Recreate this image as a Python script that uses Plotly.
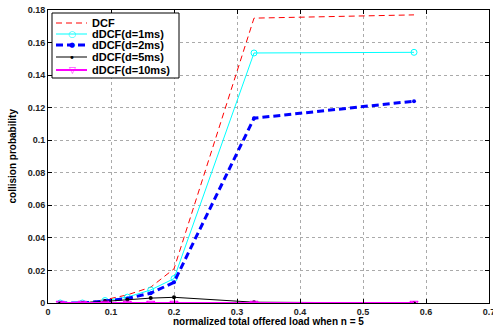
import plotly.graph_objects as go

load = [0.0194, 0.0546, 0.0905, 0.126, 0.163, 0.2, 0.327, 0.581]
dcf = [0.0, 0.0, 0.002, 0.005, 0.0097, 0.021, 0.175, 0.177]
ddcf1 = [0.0, 0.0, 0.0015, 0.0036, 0.008, 0.015, 0.1536, 0.154]
ddcf2 = [0.0, 0.0, 0.0012, 0.0028, 0.006, 0.0127, 0.1135, 0.124]
ddcf5 = [0.0, 0.0, 0.001, 0.002, 0.003, 0.0035, 0.0005, 0.0]
ddcf10 = [0.0, 0.0, 0.0, 0.0, 0.0, 0.0, 0.0, 0.0]

names = ["DCF", "dDCF(d=1ms)", "dDCF(d=2ms)", "dDCF(d=5ms)", "dDCF(d=10ms)"]
xticks = [0, 0.1, 0.2, 0.3, 0.4, 0.5, 0.6, 0.7]
xticklabels = ["0", "0.1", "0.2", "0.3", "0.4", "0.5", "0.6", "0.7"]
yticks = [0, 0.02, 0.04, 0.06, 0.08, 0.1, 0.12, 0.14, 0.16, 0.18]
yticklabels = ["0", "0.02", "0.04", "0.06", "0.08", "0.1", "0.12", "0.14", "0.16", "0.18"]

styles = [
    dict(line=dict(color="red", width=1, dash="6px,4px"), mode="lines", marker=None, glyph=None),
    dict(line=dict(color="cyan", width=1), mode="lines+markers",
         marker=dict(symbol="circle-open", size=6, color="cyan", line=dict(width=1)), glyph="○"),
    dict(line=dict(color="blue", width=3, dash="7px,4px"), mode="lines+markers",
         marker=dict(symbol="circle", size=4, color="blue"), glyph="●"),
    dict(line=dict(color="black", width=1), mode="lines+markers",
         marker=dict(symbol="circle", size=4, color="black"), glyph="•"),
    dict(line=dict(color="magenta", width=2), mode="lines+markers",
         marker=dict(symbol="triangle-down-open", size=7, color="magenta", line=dict(width=1.2)), glyph="▽"),
]
series = [dcf, ddcf1, ddcf2, ddcf5, ddcf10]

fig = go.Figure()
for nm, ys, st in zip(names, series, styles):
    kw = dict(x=load, y=ys, name=nm, mode=st["mode"], line=st["line"], showlegend=False)
    if st["marker"] is not None:
        kw["marker"] = st["marker"]
    fig.add_trace(go.Scatter(**kw))

FONT = "Liberation Sans"
axis_common = dict(showline=True, linecolor="black", linewidth=1, mirror="ticks",
                   ticks="inside", ticklen=4, tickcolor="black",
                   showgrid=True, gridcolor="#aaaaaa", griddash="dot", gridwidth=1,
                   zeroline=False, automargin=False, ticklabeloverflow="allow",
                   tickfont=dict(family=FONT, size=9, color="#222", weight="bold"))

W, H = 493, 327
L, R, T, B = 48, 489, 10, 303
def px(x):
    return (x - L) / (R - L)
def py(y):
    return (B - y) / (B - T)

shapes = [dict(type="rect", xref="paper", yref="paper",
               x0=px(52), x1=px(179), y0=py(78), y1=py(13),
               line=dict(color="black", width=1), fillcolor="white", layer="above")]
annotations = []
rows = [23, 34, 45, 57, 70]
for nm, st, ry in zip(names, styles, rows):
    ln = st["line"]
    shapes.append(dict(type="line", xref="paper", yref="paper",
                       x0=px(56), x1=px(87), y0=py(ry), y1=py(ry),
                       line=dict(color=ln["color"], width=ln["width"],
                                 dash=ln.get("dash", "solid")), layer="above"))
    if st["glyph"]:
        gsize = {"○": 9, "●": 7, "•": 10, "▽": 9}[st["glyph"]]
        annotations.append(dict(xref="paper", yref="paper", x=px(72), y=py(ry),
                                text=st["glyph"], showarrow=False, xanchor="center", yanchor="middle",
                                font=dict(family="DejaVu Sans", size=gsize, color=ln["color"])))
    annotations.append(dict(xref="paper", yref="paper", x=px(90), y=py(ry),
                            text=nm, showarrow=False, xanchor="left", yanchor="middle",
                            font=dict(family=FONT, size=11, color="black", weight="bold")))

annotations.append(dict(xref="paper", yref="paper", x=0.5, y=py(321.5),
                        text="normalized total offered load when n = 5", showarrow=False,
                        xanchor="center", yanchor="middle",
                        font=dict(family=FONT, size=10, color="black", weight="bold")))
annotations.append(dict(xref="paper", yref="paper", x=px(12), y=0.5,
                        text="collision probability", showarrow=False, textangle=-90,
                        xanchor="center", yanchor="middle",
                        font=dict(family=FONT, size=10, color="black", weight="bold")))

fig.update_layout(
    width=W, height=H,
    margin=dict(l=L, r=W - R, t=T, b=H - B, pad=0, autoexpand=False),
    paper_bgcolor="white", plot_bgcolor="white",
    xaxis=dict(range=[0, 0.7], tickvals=xticks, ticktext=xticklabels, **axis_common),
    yaxis=dict(range=[0, 0.18], tickvals=yticks, ticktext=yticklabels, **axis_common),
    shapes=shapes,
    annotations=annotations,
    showlegend=False,
)

# remove the page's default 8px body margin so the figure fills the window exactly
fig.write_html("out.html", post_script="document.body.style.margin='0px';",
               config={"displayModeBar": False})
